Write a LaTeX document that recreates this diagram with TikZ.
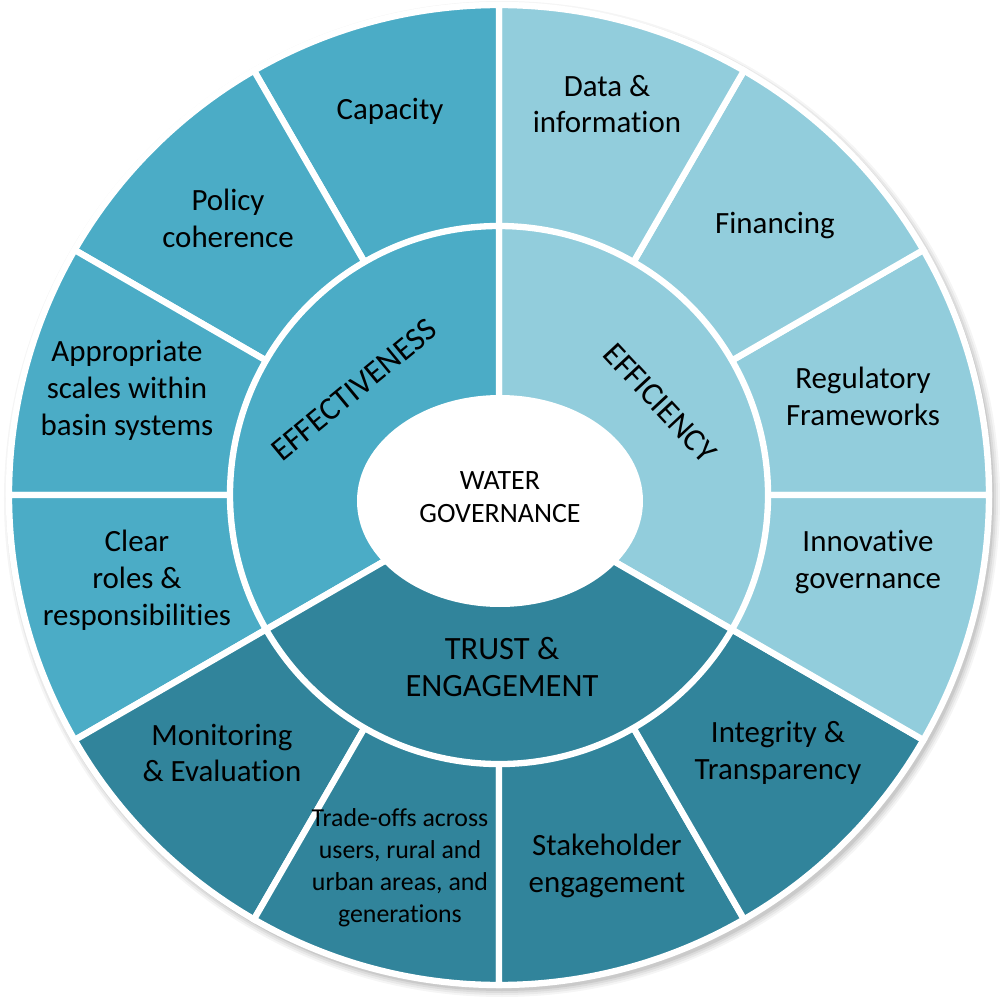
\documentclass[tikz,border=0pt]{standalone}
\usepackage{fontspec}
\setmainfont{Carlito}[Ligatures=NoCommon]
\definecolor{cMed}{HTML}{4BACC6}
\definecolor{cLight}{HTML}{92CDDC}
\definecolor{cDark}{HTML}{31849B}
\tikzset{
  segline/.style={draw=white, line width=1.8pt, line join=miter},
  lbl/.style={align=center, inner sep=0pt, font=\fontsize{8.8}{10.5}\selectfont},
  smalllbl/.style={align=center, inner sep=0pt, font=\fontsize{7.35}{9.1}\selectfont},
  midlbl/.style={align=center, inner sep=0pt, font=\fontsize{9.25}{10.8}\selectfont},
  centerlbl/.style={align=center, inner sep=0pt, font=\fontsize{7.95}{9.4}\selectfont},
}
\newcommand\wedgeseg[4]{%
  \filldraw[segline, fill=#1] (0,0) -- (#2:#4) arc[start angle=#2, end angle=#3, radius=#4] -- cycle;}
\begin{document}
\begin{tikzpicture}[x=0.1mm,y=0.1mm]
\useasboundingbox (-499,-505) rectangle (501,495);
% soft shadow
\foreach \r/\o in {498/0.04,496/0.05,494/0.06,492/0.08}
  \fill[black, opacity=\o] (3,-4) circle[radius=\r];
% outer ring
\wedgeseg{cLight}{0}{30}{490}
\wedgeseg{cLight}{30}{60}{490}
\wedgeseg{cLight}{60}{90}{490}
\wedgeseg{cMed}{90}{120}{490}
\wedgeseg{cMed}{120}{150}{490}
\wedgeseg{cMed}{150}{180}{490}
\wedgeseg{cMed}{180}{210}{490}
\wedgeseg{cDark}{210}{240}{490}
\wedgeseg{cDark}{240}{270}{490}
\wedgeseg{cDark}{270}{300}{490}
\wedgeseg{cDark}{300}{330}{490}
\wedgeseg{cLight}{330}{360}{490}
% middle ring
\wedgeseg{cLight}{-30}{90}{269}
\wedgeseg{cMed}{90}{210}{269}
\wedgeseg{cDark}{210}{330}{269}
% centre ellipse
\fill[white] (1,-6) ellipse[x radius=143, y radius=106];
% centre label
\node[centerlbl] (wg) at (1,-2) {WATER\\GOVERNANCE};
% middle labels
\node[midlbl, rotate=39.5] (eff) at (-145,105) {EFFECTIVENESS};
\node[midlbl, rotate=-47] (effi) at (161,92) {EFFICIENCY};
\node[midlbl] (trust) at (3,-172) {TRUST \&\\ENGAGEMENT};
% outer labels
\node[lbl] (capacity) at (-109,384) {Capacity};
\node[lbl] (data) at (108,391) {Data \&\\information};
\node[lbl] (fin) at (276,269) {Financing};
\node[lbl] (reg) at (364,99) {Regulatory\\Frameworks};
\node[lbl] (innov) at (369,-67) {Innovative\\governance};
\node[lbl] (integ) at (279,-258) {Integrity \&\\Transparency};
\node[lbl] (stake) at (108,-371) {Stakeholder\\engagement};
\node[smalllbl] (trade) at (-99,-373) {Trade-offs across\\users, rural and\\urban areas, and\\generations};
\node[lbl] (monit) at (-277,-258) {Monitoring\\\& Evaluation};
\node[lbl] (clear) at (-362,-85) {Clear\\roles \&\\responsibilities};
\node[lbl] (approp) at (-372,105) {Appropriate\\scales within\\basin systems};
\node[lbl] (policy) at (-271,277) {Policy\\coherence};
\end{tikzpicture}
\end{document}
